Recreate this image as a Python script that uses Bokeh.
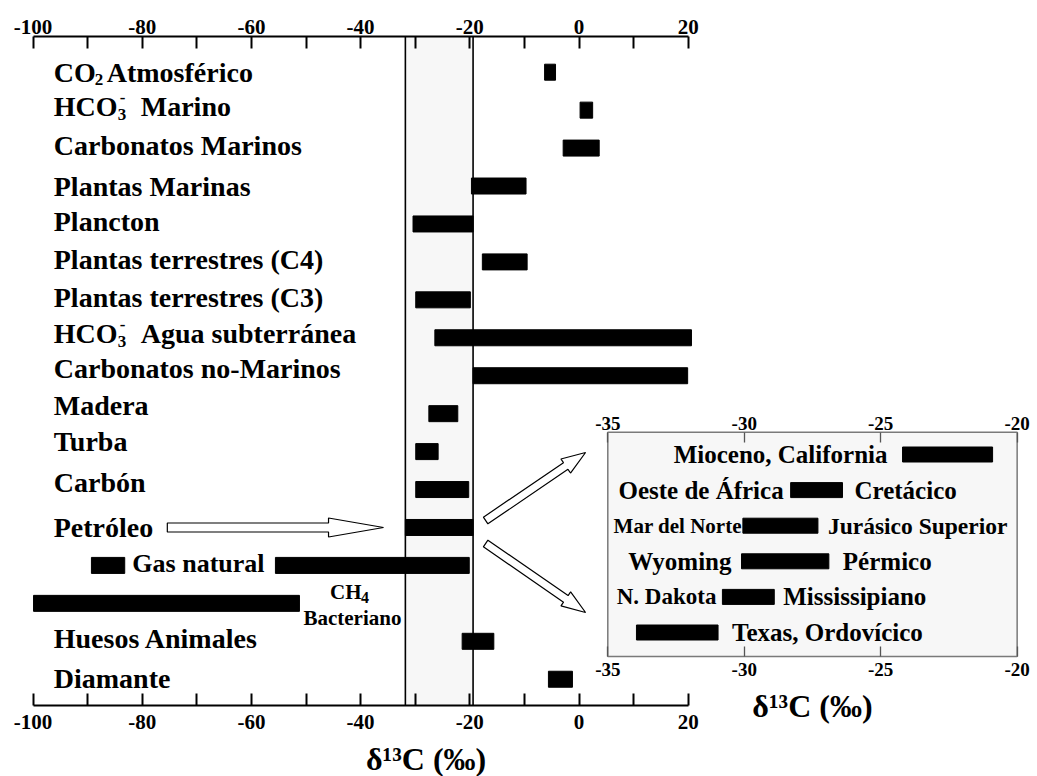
import math
from bokeh.plotting import figure
from bokeh.models import Range1d, LinearAxis, FixedTicker, ColumnDataSource
from bokeh.core.properties import value
from bokeh.embed import file_html
from bokeh.resources import INLINE

# ---------------- data (δ13C ‰ ranges) ----------------
categories = ["CO2 Atmosférico", "HCO3- Marino", "Carbonatos Marinos", "Plantas Marinas",
              "Plancton", "Plantas terrestres (C4)", "Plantas terrestres (C3)",
              "HCO3- Agua subterránea", "Carbonatos no-Marinos", "Madera", "Turba",
              "Carbón", "Petróleo", "Gas natural", "CH4 Bacteriano", "Huesos Animales",
              "Diamante"]
range_low = [-6.3, 0.2, -2.9, -19.7, -30.4, -17.7, -29.9, -26.4, -19.4, -27.5, -29.9,
             -29.9, -31.8, -55.6, -99.9, -21.4, -5.6]
range_high = [-4.3, 2.5, 3.7, -9.7, -19.4, -9.5, -19.9, 20.6, 19.9, -22.2, -25.8,
              -20.2, -19.4, -20.1, -51.2, -15.6, -1.2]
gas_extra_low = [-89.3]
gas_extra_high = [-83.2]
band_low, band_high = -31.8, -19.4
main_ticks = [-100, -80, -60, -40, -20, 0, 20]
main_minor_ticks = [-90, -70, -50, -30, -10, 10]

inset_left_labels = ["Mioceno, California", "Oeste de África", "Mar del Norte", "Wyoming",
                     "N. Dakota", ""]
inset_right_labels = ["", "Cretácico", "Jurásico Superior", "Pérmico", "Mississipiano",
                      "Texas, Ordovícico"]
inset_low = [-24.2, -28.3, -30.05, -30.1, -30.8, -33.95]
inset_high = [-20.9, -26.4, -27.3, -26.9, -28.9, -30.96]
inset_ticks = [-35, -30, -25, -20]
axis_title = "δ¹³C (‰)"

# ---------------- layout ----------------
W, H = 1037, 776
X0_PX, SX = 578.5, 5.46        # px of x=0, px per ‰ (main)
Y0_PX, SY = 71.7, 37.94        # px of first row, px per row (main)
IX0_PX, ISX = 607.3, 27.29     # px of x=-35, px per ‰ (inset)
IY0_PX, ISY = 454.0, 35.6      # px of first inset row, px per row
FONT = "Liberation Serif"
BG = "#f7f7f7"
# small vertical nudges (px) of the row labels, as in the original drawing
label_nudge = [0, -4, -3, 0, -2, -2, -2, -4, -7, -8, -10, -7, 0, -2, 0, -3, -1]

def ry(px):   # main rows from pixel
    return (px - Y0_PX) / SY

def iry(px):
    return (px - IY0_PX) / ISY

main_top = ry(36)
main_bot = ry(705)
inset_top = iry(431.7)
inset_bot = iry(656)

p = figure(width=W, height=H, output_backend="svg", toolbar_location=None,
           x_axis_location=None, y_axis_location=None, min_border=0,
           outline_line_color=None,
           x_range=Range1d(-X0_PX / SX, (W - X0_PX) / SX),
           y_range=Range1d(ry(H), ry(0)))
p.extra_x_ranges = {"inset": Range1d(-35 - IX0_PX / ISX, -35 + (W - IX0_PX) / ISX)}
p.extra_y_ranges = {"inset": Range1d(iry(H), iry(0))}
p.background_fill_color = "white"
p.border_fill_color = "white"
for g in p.renderers + list(p.center):
    pass
p.grid.visible = False
for c in list(p.center):
    c.visible = False

rows = list(range(len(categories)))

# shaded band
p.quad(left=[band_low], right=[band_high], top=[main_top], bottom=[main_bot],
       fill_color=BG, line_color=None)
p.segment(x0=[band_low, band_high], y0=[main_top] * 2, x1=[band_low, band_high],
          y1=[main_bot] * 2, line_color="black", line_width=1.6)

# bars
bar_h = 16 / SY
p.hbar(y=rows, left=range_low, right=range_high, height=bar_h, color="black")
gi = categories.index("Gas natural")
p.hbar(y=[gi] * len(gas_extra_low), left=gas_extra_low, right=gas_extra_high,
       height=bar_h, color="black")

# main axes
def style_axis(ax, size, ticks, color="black", lw=2):
    ax.axis_line_color = color
    ax.axis_line_width = lw
    ax.major_tick_line_color = color
    ax.minor_tick_line_color = color
    ax.major_tick_line_width = lw
    ax.minor_tick_line_width = lw
    ax.major_label_text_font = FONT
    ax.major_label_text_font_style = "bold"
    ax.major_label_text_font_size = size
    ax.major_label_text_color = "black"
    ax.major_label_overrides = {t: str(t) for t in ticks}

for loc, side, standoff in [(main_top, "above", 3), (main_bot, "below", 9)]:
    ax = LinearAxis(fixed_location=loc, bounds=(main_ticks[0], main_ticks[-1]),
                    ticker=FixedTicker(ticks=main_ticks, minor_ticks=main_minor_ticks))
    style_axis(ax, "21px", main_ticks)
    ax.major_tick_in = 12
    ax.major_tick_out = 0
    ax.minor_tick_in = 12
    ax.minor_tick_out = 0
    ax.major_label_standoff = standoff
    p.add_layout(ax, side)

# main labels
LABEL_X = -96.2
fs = "28px"
simple = [i for i, c in enumerate(categories)
          if c not in ("CO2 Atmosférico", "HCO3- Marino", "HCO3- Agua subterránea",
                       "Gas natural", "CH4 Bacteriano")]
src = ColumnDataSource(dict(x=[LABEL_X] * len(simple), y=simple,
                            t=[categories[i] for i in simple],
                            dy=[label_nudge[i] for i in simple]))
p.text(x="x", y="y", text="t", y_offset="dy", source=src, text_font=value(FONT),
       text_font_style="bold", text_font_size=fs, text_baseline="middle",
       text_align="left", text_color="black")

def piece(x, y, t, size, dx=0, dy=0, align="left", **kw):
    p.text(x=[x], y=[y], text=[t], text_font=value(FONT), text_font_style="bold",
           text_font_size=size, text_baseline="middle", text_align=align,
           x_offset=dx, y_offset=dy, text_color="black", **kw)

r = categories.index("CO2 Atmosférico")
piece(LABEL_X, r, "CO", fs, dy=label_nudge[r])
piece(LABEL_X, r, "2", "17px", dx=41, dy=label_nudge[r] + 7)
piece(LABEL_X, r, "Atmosférico", fs, dx=53, dy=label_nudge[r])
for name, rest in [("HCO3- Marino", "Marino"), ("HCO3- Agua subterránea", "Agua subterránea")]:
    r = categories.index(name)
    d = label_nudge[r]
    piece(LABEL_X, r, "HCO", fs, dy=d)
    piece(LABEL_X, r, "3", "17px", dx=64, dy=d + 8)
    piece(LABEL_X, r, "-", "17px", dx=66, dy=d - 9)
    piece(LABEL_X, r, rest, fs, dx=87, dy=d)
piece(-81.8, gi, "Gas natural", "26px", dy=label_nudge[gi])
r = categories.index("CH4 Bacteriano")
piece(-45.6, r, "CH", "21px", dy=-11)
piece(-45.6, r, "4", "16px", dx=31, dy=-6)
piece(-41.5, r, "Bacteriano", "21px", dy=15, align="center")

# main axis title
piece(-28.0, ry(758), axis_title, "32px", align="center")

# hollow block arrows
def to_px(x, y):
    return X0_PX + x * SX, Y0_PX + y * SY

def arrow(x0, y0, x1, y1, shaft, head_w, head_len):
    ax_, ay_ = to_px(x0, y0)
    bx, by = to_px(x1, y1)
    L = math.hypot(bx - ax_, by - ay_)
    ux, uy = (bx - ax_) / L, (by - ay_) / L
    nx, ny = -uy, ux
    hx, hy = bx - ux * head_len, by - uy * head_len
    s, hw = shaft / 2, head_w / 2
    pts = [(ax_ + nx * s, ay_ + ny * s), (hx + nx * s, hy + ny * s),
           (hx + nx * hw, hy + ny * hw), (bx, by), (hx - nx * hw, hy - ny * hw),
           (hx - nx * s, hy - ny * s), (ax_ - nx * s, ay_ - ny * s)]
    xs = [(px - X0_PX) / SX for px, _ in pts]
    ys = [(py - Y0_PX) / SY for _, py in pts]
    p.patch(xs, ys, fill_color="white", line_color="black", line_width=1.2)

pr = categories.index("Petróleo")
arrow(-75.4, pr, -35.8, pr, 9, 19, 55)
arrow(-17.1, ry(520), 1.2, ry(452), 8, 17, 24)
arrow(-17.1, ry(543), 1.2, ry(612), 8, 17, 24)

# ---------------- inset ----------------
IR = dict(x_range_name="inset", y_range_name="inset")
p.quad(left=[-35], right=[-20], top=[inset_top], bottom=[inset_bot], fill_color=BG,
       line_color="#7a7a7a", line_width=1.5, **IR)
irows = list(range(len(inset_low)))
p.hbar(y=irows, left=inset_low, right=inset_high, height=15 / ISY, color="black", **IR)

left_sizes = ["25px", "25px", "21px", "25px", "23px", "25px"]
right_sizes = ["25px", "25px", "23.5px", "25px", "25px", "25px"]
left_gap = [15, 7, 1, 10, 6, 10]
right_gap = [12, 12, 10, 14, 9, 14]
for i in irows:
    if inset_left_labels[i]:
        p.text(x=[inset_low[i]], y=[i], text=[inset_left_labels[i]], text_font=value(FONT),
               text_font_style="bold", text_font_size=left_sizes[i], text_baseline="middle",
               text_align="right", x_offset=-left_gap[i], text_color="black", **IR)
    if inset_right_labels[i]:
        p.text(x=[inset_high[i]], y=[i], text=[inset_right_labels[i]], text_font=value(FONT),
               text_font_style="bold", text_font_size=right_sizes[i], text_baseline="middle",
               text_align="left", x_offset=right_gap[i], text_color="black", **IR)

for loc, side, standoff in [(inset_top, "above", 2), (inset_bot, "below", 6)]:
    ax = LinearAxis(fixed_location=loc, bounds=(-35, -20), ticker=FixedTicker(ticks=inset_ticks),
                    **IR)
    style_axis(ax, "19px", inset_ticks, color="#555555", lw=1.3)
    ax.axis_line_color = None
    ax.major_tick_in = 10
    ax.major_tick_out = 0
    ax.minor_tick_in = 0
    ax.minor_tick_out = 0
    ax.major_label_standoff = standoff
    p.add_layout(ax, side)

p.text(x=[-27.5], y=[iry(705)], text=[axis_title], text_font=value(FONT),
       text_font_style="bold", text_font_size="32px", text_baseline="middle",
       text_align="center", text_color="black", **IR)

open("out.html", "w").write(file_html(p, INLINE))
